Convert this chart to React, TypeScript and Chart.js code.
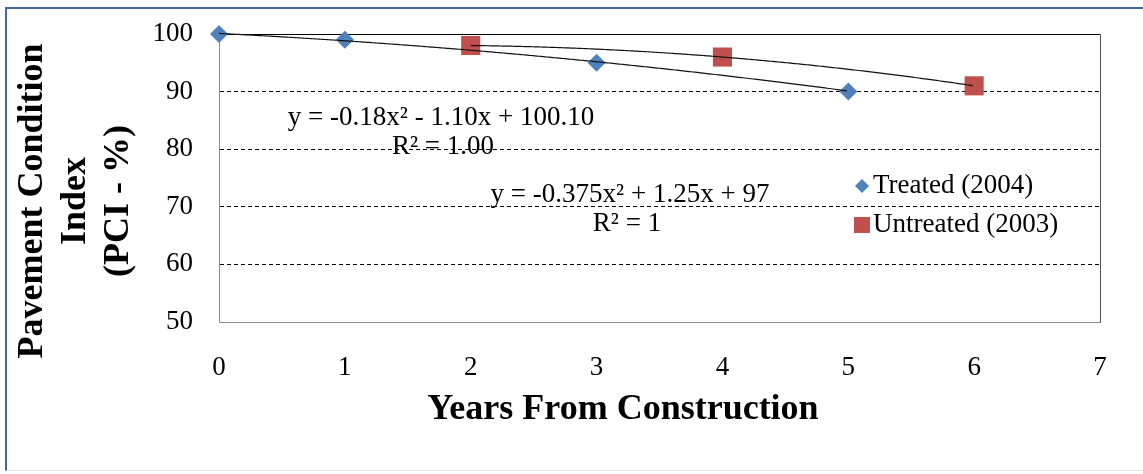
import React, { useEffect, useRef } from "react";
import { Chart, registerables } from "chart.js";

Chart.register(...registerables);

// ---- data ----
const treatedYears = [0, 1, 3, 5];
const treatedPCI = [100, 99, 95, 90];
const untreatedYears = [2, 4, 6];
const untreatedPCI = [98, 96, 91];
// polynomial trendline coefficients [a, b, c] for y = a x^2 + b x + c
const treatedTrendCoef = [-0.18, -1.1, 100.1];
const untreatedTrendCoef = [-0.375, 1.25, 97];
const xTickValues = [0, 1, 2, 3, 4, 5, 6, 7];
const yTickValues = [50, 60, 70, 80, 90, 100];
const seriesLabels = ["Treated (2004)", "Untreated (2003)"];
const treatedEquation = ["y = -0.18x\u00B2 - 1.10x + 100.10", "R\u00B2 = 1.00"];
const untreatedEquation = ["y = -0.375x\u00B2 + 1.25x + 97", "R\u00B2 = 1"];
const xTitle = "Years From Construction";
const yTitle = ["Pavement Condition", "Index", "(PCI - %)"];

const FONT = "'Liberation Serif', 'Times New Roman', serif";
const BLUE = "#4F81BD";
const RED = "#C0504D";

function drawDiamond(ctx: CanvasRenderingContext2D, x: number, y: number, r: number, color: string) {
  ctx.save();
  ctx.fillStyle = color;
  ctx.beginPath();
  ctx.moveTo(x - r, y);
  ctx.lineTo(x, y - r);
  ctx.lineTo(x + r, y);
  ctx.lineTo(x, y + r);
  ctx.closePath();
  ctx.fill();
  ctx.restore();
}

function drawSquare(ctx: CanvasRenderingContext2D, x: number, y: number, half: number, color: string) {
  ctx.save();
  ctx.fillStyle = color;
  ctx.fillRect(x - half, y - half, half * 2, half * 2);
  ctx.restore();
}

const decorPlugin = {
  id: "decor",
  beforeDatasetsDraw(chart: any) {
    const { ctx, chartArea } = chart;
    ctx.save();
    ctx.strokeStyle = "#000";
    ctx.lineWidth = 1;
    ctx.beginPath();
    ctx.moveTo(Math.round(chartArea.left) + 0.5, Math.round(chartArea.top) + 0.5);
    ctx.lineTo(Math.round(chartArea.right) + 0.5, Math.round(chartArea.top) + 0.5);
    ctx.stroke();
    ctx.strokeStyle = "#555";
    ctx.beginPath();
    ctx.moveTo(Math.round(chartArea.right) + 0.5, Math.round(chartArea.top) + 0.5);
    ctx.lineTo(Math.round(chartArea.right) + 0.5, Math.round(chartArea.bottom) + 0.5);
    ctx.stroke();
    ctx.restore();
  },
  afterDatasetsDraw(chart: any) {
    const { ctx } = chart;
    const xs = chart.scales.x;
    const ys = chart.scales.y;
    const trends = [
      { coef: treatedTrendCoef, xs: treatedYears },
      { coef: untreatedTrendCoef, xs: untreatedYears },
    ];
    ctx.save();
    ctx.strokeStyle = "#111";
    ctx.lineWidth = 1.2;
    trends.forEach((t) => {
      const [a, b, c] = t.coef;
      const p0 = xs.getPixelForValue(Math.min(...t.xs));
      const p1 = xs.getPixelForValue(Math.max(...t.xs));
      ctx.beginPath();
      for (let px = p0; px <= p1 + 0.01; px += 2) {
        const v = xs.getValueForPixel(Math.min(px, p1));
        const py = ys.getPixelForValue(a * v * v + b * v + c);
        if (px === p0) ctx.moveTo(px, py);
        else ctx.lineTo(Math.min(px, p1), py);
      }
      ctx.stroke();
    });
    ctx.restore();
  },
  afterDraw(chart: any) {
    const { ctx } = chart;
    ctx.save();
    ctx.fillStyle = "#000";
    ctx.textAlign = "center";
    ctx.textBaseline = "middle";
    // equations
    ctx.font = `27px ${FONT}`;
    ctx.fillText(treatedEquation[0], 441, 118);
    ctx.fillText(treatedEquation[1], 443, 147);
    ctx.fillText(untreatedEquation[0], 630, 195);
    ctx.fillText(untreatedEquation[1], 627, 224);
    // legend
    drawDiamond(ctx, 862, 186, 7, BLUE);
    drawSquare(ctx, 862, 225, 8, RED);
    ctx.textAlign = "left";
    ctx.fillText(seriesLabels[0], 873, 186);
    ctx.fillText(seriesLabels[1], 873, 225);
    // axis titles
    ctx.font = `bold 36px ${FONT}`;
    ctx.textAlign = "center";
    ctx.fillText(xTitle, 623, 410);
    ctx.save();
    ctx.translate(0, 201);
    ctx.rotate(-Math.PI / 2);
    yTitle.forEach((line, i) => {
      ctx.fillText(line, 0, 33 + i * 43);
    });
    ctx.restore();
    ctx.restore();
  },
};

export default function App() {
  const ref = useRef<HTMLCanvasElement | null>(null);
  useEffect(() => {
    if (!ref.current) return;
    Chart.defaults.font.family = FONT;
    const chart = new Chart(ref.current, {
      type: "scatter",
      data: {
        datasets: [
          {
            label: seriesLabels[0],
            data: treatedYears.map((x, i) => ({ x, y: treatedPCI[i] })),
            pointStyle: "rectRot",
            pointRadius: 9,
            pointBackgroundColor: BLUE,
            pointBorderWidth: 0,
            backgroundColor: BLUE,
            borderColor: BLUE,
            showLine: false,
            clip: false as any,
          },
          {
            label: seriesLabels[1],
            data: untreatedYears.map((x, i) => ({ x, y: untreatedPCI[i] })),
            pointStyle: "rect",
            pointRadius: 13.5,
            pointBackgroundColor: RED,
            pointBorderWidth: 0,
            backgroundColor: RED,
            borderColor: RED,
            showLine: false,
            clip: false as any,
          },
        ],
      },
      options: {
        animation: false,
        responsive: false,
        devicePixelRatio: 1,
        layout: { autoPadding: false, padding: { left: 11, right: 43, top: 34, bottom: 0 } },
        plugins: {
          legend: { display: false },
          tooltip: { enabled: false },
        },
        scales: {
          x: {
            type: "linear",
            min: xTickValues[0],
            max: xTickValues[xTickValues.length - 1],
            afterBuildTicks: (scale: any) => {
              scale.ticks = xTickValues.map((v) => ({ value: v }));
            },
            afterFit: (scale: any) => {
              scale.height = 152;
              scale.paddingLeft = 0;
              scale.paddingRight = 0;
            },
            grid: { display: false, drawTicks: false },
            border: { display: true, color: "#8c8c8c", width: 1 },
            ticks: {
              padding: 30,
              color: "#000",
              font: { size: 27, family: FONT },
              callback: (v: any) => String(v),
            },
          },
          y: {
            type: "linear",
            min: yTickValues[0],
            max: yTickValues[yTickValues.length - 1],
            afterBuildTicks: (scale: any) => {
              scale.ticks = yTickValues.map((v) => ({ value: v }));
            },
            afterFit: (scale: any) => {
              scale.width = 208;
              scale.paddingTop = 0;
              scale.paddingBottom = 0;
            },
            grid: {
              drawTicks: false,
              color: (c: any) =>
                c.tick && (c.tick.value === yTickValues[0] || c.tick.value === yTickValues[yTickValues.length - 1])
                  ? "rgba(0,0,0,0)"
                  : "#000",
              lineWidth: 1,
            },
            border: { display: true, color: "#8c8c8c", width: 1, dash: [4, 3] },
            ticks: {
              padding: 26,
              color: "#000",
              font: { size: 27, family: FONT },
              callback: (v: any) => String(v),
            },
          },
        },
      },
      plugins: [decorPlugin],
    });
    return () => chart.destroy();
  }, []);
  return (
    <div style={{ position: "absolute", left: 0, top: 0, width: 1143, height: 474, background: "#fff" }}>
      <div
        style={{
          position: "absolute",
          left: 5,
          top: 7,
          width: 1138,
          height: 464,
          borderLeft: "2px solid #41679C",
          borderTop: "2px solid #41679C",
          borderBottom: "1px solid #e2e2e2",
          boxSizing: "border-box",
        }}
      />
      <canvas ref={ref} width={1143} height={474} style={{ position: "absolute", left: 0, top: 0 }} />
    </div>
  );
}
